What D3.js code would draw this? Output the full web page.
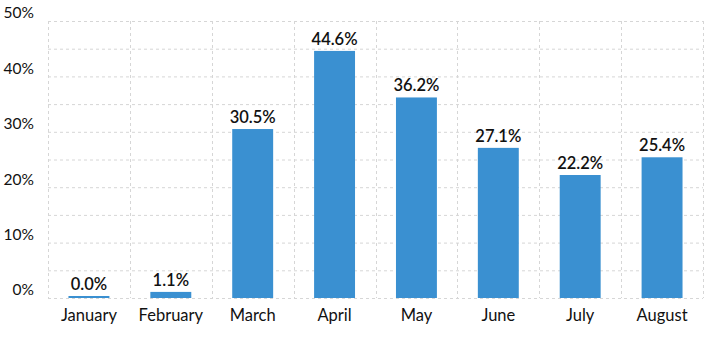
<!DOCTYPE html>
<html><head><meta charset="utf-8">
<script src="https://cdn.jsdelivr.net/npm/d3@7"></script>
<style>body{margin:0;background:#fff}svg{display:block;font-family:Lato,"Open Sans",sans-serif}</style>
</head><body><svg id="c" width="720" height="340"></svg>
<script>
const categories = ["January","February","March","April","May","June","July","August"];
const values = [0.0, 1.1, 30.5, 44.6, 36.2, 27.1, 22.2, 25.4];
const yTicks = [0, 10, 20, 30, 40, 50];
const gridTicks = [0, 5, 10, 15, 20, 25, 30, 35, 40, 45, 50];

const svg = d3.select("#c");
const m = {l:48, r:703, t:21, b:298};
const x = d3.scaleBand().domain(categories).range([m.l, m.r]).paddingInner(0).paddingOuter(0);
const y = d3.scaleLinear().domain([0,50]).range([m.b, m.t]);

// grid
svg.append("g").selectAll("line").data(gridTicks).join("line")
  .attr("x1", m.l).attr("x2", m.r).attr("y1", d=>y(d)+0.5).attr("y2", d=>y(d)+0.5)
  .attr("stroke","#d6d6d6").attr("stroke-dasharray","3,3");
const vb = categories.map(c=>x(c)).concat([m.r]);
svg.append("g").selectAll("line").data(vb).join("line")
  .attr("x1", d=>Math.round(d)+0.5).attr("x2", d=>Math.round(d)+0.5).attr("y1", m.t).attr("y2", m.b)
  .attr("stroke","#d6d6d6").attr("stroke-dasharray","3,3");

// y axis labels
const yAxis = d3.axisLeft(y).tickValues(yTicks).tickFormat(d=>d+"%").tickSize(0).tickPadding(14);
const ya = svg.append("g").attr("transform",`translate(${m.l},0)`).call(yAxis);
ya.select(".domain").remove();
ya.selectAll("text").attr("font-size",15.5).attr("fill","#111").attr("font-family","Lato,sans-serif").attr("dy","-0.2em");

// x axis labels
const xAxis = d3.axisBottom(x).tickSize(0).tickPadding(11);
const xa = svg.append("g").attr("transform",`translate(0,${m.b})`).call(xAxis);
xa.select(".domain").remove();
xa.selectAll("text").attr("font-size",16.5).attr("fill","#111").attr("font-family","Lato,sans-serif");

// bars
const bw = x.bandwidth()*0.5;
svg.append("g").selectAll("rect").data(values).join("rect")
  .attr("x",(d,i)=>x(categories[i])+(x.bandwidth()-bw)/2)
  .attr("width",bw)
  .attr("y",d=>Math.min(y(d), m.b-2))
  .attr("height",d=>Math.max(m.b-y(d),2))
  .attr("fill","#3a90d1");

// value labels
svg.append("g").selectAll("text").data(values).join("text")
  .attr("x",(d,i)=>x(categories[i])+x.bandwidth()/2)
  .attr("y",d=>Math.min(y(d), m.b-2)-6)
  .attr("text-anchor","middle").attr("font-size",16.5).attr("font-weight",600)
  .attr("fill","#111")
  .text(d=>d.toFixed(1)+"%");
</script></body></html>
